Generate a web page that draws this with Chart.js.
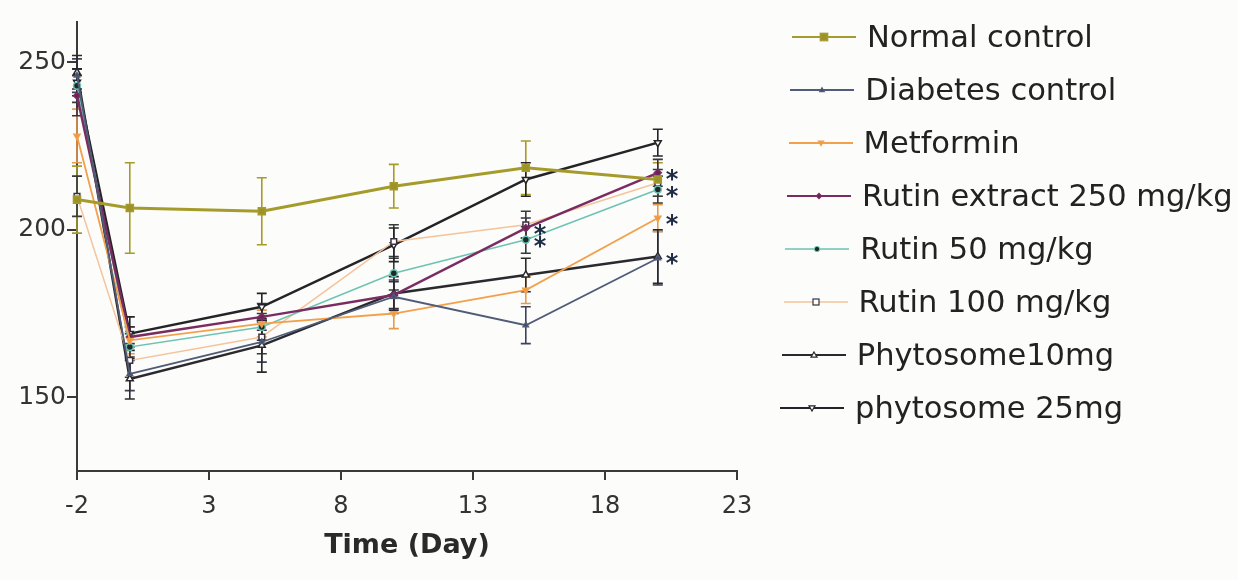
<!DOCTYPE html>
<html>
<head>
<meta charset="utf-8">
<script src="https://cdn.jsdelivr.net/npm/chart.js@4.4.1/dist/chart.umd.min.js"></script>
<style>
body { margin: 0; background: #fcfcfa; font-family: "DejaVu Sans", sans-serif; }
.wrap { position: relative; width: 1238px; height: 580px; }
#chart-box { position: absolute; left: 0; top: 0; width: 1238px; height: 580px; }
#legend { position: absolute; left: 780px; top: 10px; }
.legend-row { display: flex; align-items: center; height: 53px; font-size: 30.5px; color: #222; white-space: nowrap; }
.legend-row svg { margin-right: 11px; }
</style>
</head>
<body>
<div class="wrap">
    <div id="chart-box"><canvas id="grafico-glicemia"></canvas></div>
    <div id="legend"></div>
</div>

<script>
// Dados
const days = [-2, 0, 5, 10, 15, 20];
const xTicks = [-2, 3, 8, 13, 18, 23];
const yTicks = [150, 200, 250];

const normalControl = [209, 206.5, 205.5, 213, 218.5, 215];
const normalControlErr = [10, 13.5, 10, 6.5, 8, 5];
const diabetesControl = [246, 157, 166.5, 180, 171.5, 191.5];
const diabetesControlErr = [5, 5, 6, 5, 5.5, 8];
const metformin = [228, 167, 172, 175, 182, 203.5];
const metforminErr = [8, 4, 4, 4.5, 4, 4];
const rutinExtract = [240, 168, 174, 180.5, 200.5, 217];
const rutinExtractErr = [6, 3, 4, 4, 3, 4];
const rutin50 = [243, 165, 171, 187, 197, 212];
const rutin50Err = [5, 4, 4, 5, 4, 4];
const rutin100 = [210, 161, 168, 196.5, 201.5, 214];
const rutin100Err = [6, 5, 5, 5, 4, 4];
const phytosome10 = [247, 155.5, 165.5, 181, 186.5, 192];
const phytosome10Err = [5, 6, 8, 5, 5, 8];
const phytosome25 = [244, 169, 177, 195.5, 215, 226];
const phytosome25Err = [4, 5, 4, 5, 5, 4];

// asteriscos de significância: [série, dia]
const starMarks = [
    ['Rutin extract 250 mg/kg', 15],
    ['Rutin 50 mg/kg', 15],
    ['Rutin extract 250 mg/kg', 20],
    ['Rutin 50 mg/kg', 20],
    ['Metformin', 20],
    ['Phytosome10mg', 20]
];

const series = [
    { label: 'Normal control', data: normalControl, err: normalControlErr, color: '#a59b2b', width: 3, point: 'rect', radius: 5, fill: '#9c922a', errColor: '#a59b2b' },
    { label: 'Diabetes control', data: diabetesControl, err: diabetesControlErr, color: '#505b78', width: 1.8, point: 'triangle', radius: 3, fill: '#3e4866', errColor: '#3c4258' },
    { label: 'Metformin', data: metformin, err: metforminErr, color: '#f2a04c', width: 1.8, point: 'triangleDown', radius: 3.5, fill: '#f0963c', errColor: '#e89a4c' },
    { label: 'Rutin extract 250 mg/kg', data: rutinExtract, err: rutinExtractErr, color: '#7a2c62', width: 2.5, point: 'rectRot', radius: 3.5, fill: '#6a2454', errColor: '#3a3040' },
    { label: 'Rutin 50 mg/kg', data: rutin50, err: rutin50Err, color: '#6cc3b2', width: 1.5, point: 'circle', radius: 3.5, fill: '#1e2a2a', errColor: '#333a3a' },
    { label: 'Rutin 100 mg/kg', data: rutin100, err: rutin100Err, color: '#f4c49c', width: 1.5, point: 'rect', radius: 4, fill: '#ffffff', errColor: '#3a3a3a', pointBorder: '#3a3040' },
    { label: 'Phytosome10mg', data: phytosome10, err: phytosome10Err, color: '#2a2a2e', width: 2.5, point: 'triangle', radius: 4, fill: '#ffffff', errColor: '#2a2a2e' },
    { label: 'phytosome 25mg', data: phytosome25, err: phytosome25Err, color: '#242428', width: 2.5, point: 'triangleDown', radius: 4, fill: '#ffffff', errColor: '#242428' }
];

// Barras de erro
const errorBars = {
    id: 'errorBars',
    beforeDatasetsDraw(chart) {
        const ctx = chart.ctx;
        const y = chart.scales.y;
        chart.data.datasets.forEach((ds, i) => {
            const meta = chart.getDatasetMeta(i);
            ctx.save();
            ctx.strokeStyle = ds.errColor;
            ctx.lineWidth = 1.6;
            meta.data.forEach((pt, j) => {
                const v = ds.data[j].y;
                const top = y.getPixelForValue(v + ds.err[j]);
                const bot = y.getPixelForValue(v - ds.err[j]);
                ctx.beginPath();
                ctx.moveTo(pt.x, top); ctx.lineTo(pt.x, bot);
                ctx.moveTo(pt.x - 5, top); ctx.lineTo(pt.x + 5, top);
                ctx.moveTo(pt.x - 5, bot); ctx.lineTo(pt.x + 5, bot);
                ctx.stroke();
            });
            ctx.restore();
        });
    }
};

// Asteriscos
const stars = {
    id: 'stars',
    afterDatasetsDraw(chart) {
        const ctx = chart.ctx;
        ctx.save();
        ctx.fillStyle = '#1f2a44';
        ctx.font = 'bold 24px "DejaVu Sans"';
        ctx.textAlign = 'left';
        ctx.textBaseline = 'middle';
        starMarks.forEach(([name, day]) => {
            const i = chart.data.datasets.findIndex(d => d.label === name);
            const j = days.indexOf(day);
            const pt = chart.getDatasetMeta(i).data[j];
            ctx.fillText('*', pt.x + 8, pt.y + 8);
        });
        ctx.restore();
    }
};

const datasets = series.map(s => ({
    label: s.label,
    data: days.map((d, i) => ({ x: d, y: s.data[i] })),
    err: s.err,
    errColor: s.errColor,
    borderColor: s.color,
    borderWidth: s.width,
    pointStyle: s.point === 'triangleDown' ? 'triangle' : s.point,
    pointRotation: s.point === 'triangleDown' ? 180 : 0,
    pointRadius: s.radius,
    pointBackgroundColor: s.fill,
    pointBorderColor: s.pointBorder || s.color,
    pointBorderWidth: 1.5,
    tension: 0,
    clip: false
}));

const axisColor = '#3a3a3a';

const chart = new Chart(document.getElementById('grafico-glicemia').getContext('2d'), {
    type: 'line',
    data: { datasets: datasets },
    plugins: [errorBars, stars],
    options: {
        responsive: true,
        maintainAspectRatio: false,
        animation: false,
        layout: { padding: { left: 0, top: 22, right: 501, bottom: 0 } },
        plugins: {
            legend: { display: false },
            tooltip: { enabled: false }
        },
        scales: {
            x: {
                type: 'linear',
                min: -2,
                max: 23,
                afterBuildTicks: scale => { scale.ticks = xTicks.map(v => ({ value: v })); },
                afterFit: scale => { scale.height = 109; },
                ticks: {
                    color: '#333',
                    padding: 12,
                    font: { family: 'DejaVu Sans', size: 24 },
                    callback: v => String(v)
                },
                grid: { drawOnChartArea: false, drawTicks: true, tickLength: 9, color: axisColor, lineWidth: 2 },
                border: { display: true, color: axisColor, width: 2 },
                title: {
                    display: true,
                    text: 'Time (Day)',
                    color: '#2a2a2a',
                    font: { family: 'DejaVu Sans', size: 27, weight: 'bold' },
                    padding: { top: 0, bottom: 18 }
                }
            },
            y: {
                type: 'linear',
                min: 128,
                max: 262,
                afterBuildTicks: scale => { scale.ticks = yTicks.map(v => ({ value: v })); },
                afterFit: scale => { scale.width = 77; },
                ticks: {
                    color: '#333',
                    padding: 1,
                    font: { family: 'DejaVu Sans', size: 25 }
                },
                grid: { drawOnChartArea: false, drawTicks: true, tickLength: 10, color: axisColor, lineWidth: 2 },
                border: { display: true, color: axisColor, width: 2 }
            }
        }
    }
});

// Legenda em HTML
function markerSvg(ds) {
    const c = 32, cy = 10, r = ds.pointRadius * 0.75;
    const fill = ds.pointBackgroundColor, stroke = ds.pointBorderColor;
    if (ds.pointStyle === 'rect') {
        return `<rect x="${c - r}" y="${cy - r}" width="${2 * r}" height="${2 * r}" fill="${fill}" stroke="${stroke}" stroke-width="1.2"/>`;
    }
    if (ds.pointStyle === 'rectRot') {
        return `<polygon points="${c},${cy - r} ${c + r},${cy} ${c},${cy + r} ${c - r},${cy}" fill="${fill}" stroke="${stroke}" stroke-width="1.2"/>`;
    }
    if (ds.pointStyle === 'circle') {
        return `<circle cx="${c}" cy="${cy}" r="${r}" fill="${fill}" stroke="${stroke}" stroke-width="1"/>`;
    }
    const d = ds.pointRotation === 180 ? -1 : 1;
    return `<polygon points="${c},${cy - d * r} ${c + r},${cy + d * r * 0.7} ${c - r},${cy + d * r * 0.7}" fill="${fill}" stroke="${stroke}" stroke-width="1.2"/>`;
}

const legendBox = document.getElementById('legend');
chart.data.datasets.forEach((ds, i) => {
    const row = document.createElement('div');
    row.className = 'legend-row';
    row.style.marginLeft = (12 - i * 1.7) + 'px';
    const w = Math.min(ds.borderWidth, 2);
    row.innerHTML = `<svg width="64" height="20"><line x1="0" y1="10" x2="64" y2="10" stroke="${ds.borderColor}" stroke-width="${w}"/>${markerSvg(ds)}</svg><span>${ds.label}</span>`;
    legendBox.appendChild(row);
});
</script>
</body>
</html>
